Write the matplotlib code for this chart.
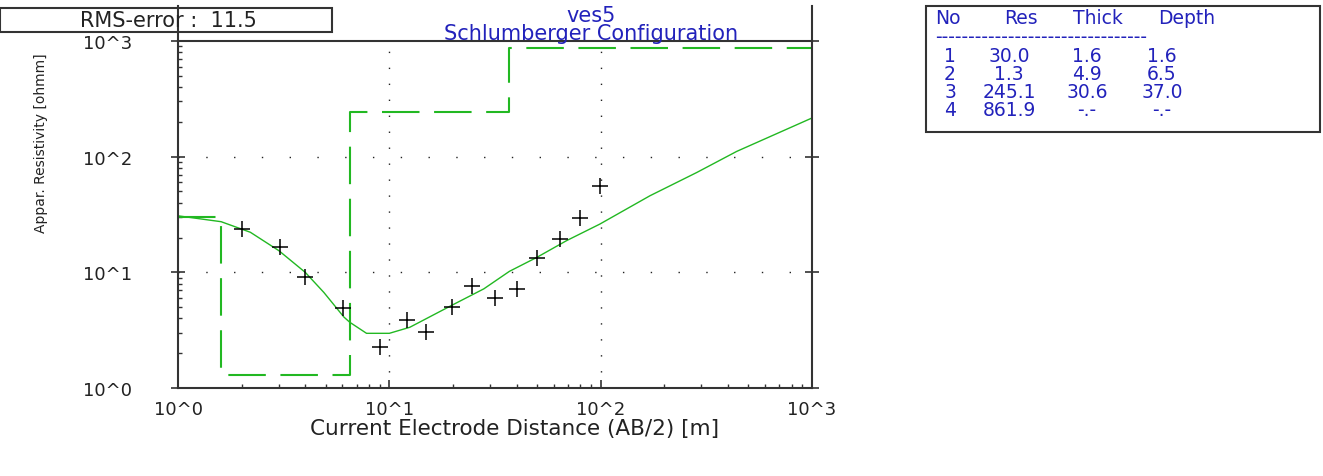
import matplotlib
matplotlib.use("Agg")
import matplotlib.pyplot as plt
from matplotlib.lines import Line2D
from matplotlib.patches import Rectangle

# layered model (Res / Thick / Depth)
layer_res = [30.0, 1.3, 245.1, 861.9]
layer_thick = [1.6, 4.9, 30.6]
layer_depth = [1.6, 6.5, 37.0]

# computed apparent resistivity curve
curve_ab2 = [1, 1.6, 2.2, 3.0, 4.0, 4.9, 6.1, 6.5, 7.8, 10, 12.5, 19.4, 28, 37,
             50, 69, 99, 171, 285, 440, 1000]
curve_rho = [30.8, 27.4, 22.2, 15.4, 10.0, 6.7, 4.1, 3.7, 2.97, 2.97, 3.35, 5.1,
             7.2, 10.2, 13.5, 18.8, 26.1, 45.9, 73, 111, 216]

# measured field data
meas_ab2 = [2.0, 3.04, 3.99, 6.02, 9.03, 12.1, 14.9, 19.7, 24.5, 31.6, 40.1,
            49.9, 64.2, 79.9, 99.4]
meas_rho = [23.7, 16.7, 9.05, 4.88, 2.25, 3.89, 3.07, 5.04, 7.57, 5.96, 7.17,
            13.3, 19.4, 29.3, 55.3]

rms_error = 11.5
station = "ves5"
config = "Schlumberger Configuration"

W, H = 1323, 477
fig = plt.figure(figsize=(W / 100, H / 100), dpi=100)
ax = fig.add_axes([178 / W, 1 - 389 / H, (812 - 178) / W, (389 - 42) / H])

green = "#22b822"
blue = "#2222bb"
dark = "#333333"

# step model from layer boundaries
step_x = [1.0] + [d for d in layer_depth for _ in (0, 1)] + [1000.0]
step_y = [r for r in layer_res for _ in (0, 1)]
ax.plot(step_x, step_y, color=green, lw=1.5, dashes=(18, 7))
ax.plot(curve_ab2, curve_rho, color=green, lw=1.0)
ax.plot(meas_ab2, meas_rho, "+", color="black", ms=12, mew=1.1)

ax.set_xscale("log")
ax.set_yscale("log")
ax.set_xlim(1, 1000)
ax.set_ylim(1, 1000)

for v in [10, 100]:
    ax.axvline(v, color="#222222", lw=1.0, ls=(0, (1, 10.5)), zorder=0)
    ax.axhline(v, color="#222222", lw=1.0, ls=(0, (1, 19)), zorder=0)

ticks = [1, 10, 100, 1000]
labels = ["10^0", "10^1", "10^2", "10^3"]
ax.set_xticks(ticks)
ax.set_xticklabels(labels)
ax.set_yticks(ticks)
ax.set_yticklabels(labels)
ax.tick_params(which="major", direction="in", length=6, width=1.2,
               labelsize=13, right=True, top=False, colors=dark, labelcolor="#222222")
ax.tick_params(axis="y", which="major", direction="inout", length=10, pad=28)
ax.tick_params(axis="x", which="major", pad=9)
ax.tick_params(which="minor", direction="in", length=3, width=1, right=False,
               top=False, colors=dark)
ax.set_xlabel("Current Electrode Distance (AB/2) [m]", fontsize=15.5, va="center",
              color="#222222")
ax.xaxis.set_label_coords((515 - 178) / 634, (389 - 429) / 347)

for s in ax.spines.values():
    s.set_linewidth(1.5)
    s.set_color(dark)

# spine extensions above the plot area
fig.add_artist(Line2D([178 / W, 178 / W], [1 - 7 / H, 1 - 42 / H], color=dark, lw=1.5))
fig.add_artist(Line2D([812 / W, 812 / W], [1 - 7 / H, 1 - 42 / H], color=dark, lw=1.5))

fig.text(41 / W, 1 - 143 / H, "Appar. Resistivity [ohmm]", rotation=90,
         ha="center", va="center", fontsize=10, color="#222222")

fig.text(591 / W, 1 - 16 / H, station, color=blue, fontsize=15, ha="center", va="center")
fig.text(591 / W, 1 - 34 / H, config, color=blue, fontsize=15, ha="center", va="center")

# RMS box
fig.add_artist(Rectangle((0, 1 - 33 / H), 332 / W, 24 / H, transform=fig.transFigure,
                         facecolor="white", edgecolor=dark, lw=1.5))
fig.text(168 / W, 1 - 21 / H, f"RMS-error :  {rms_error}", fontsize=15,
         ha="center", va="center", color="#222222")

# layer table
fig.add_artist(Rectangle((926 / W, 1 - 133 / H), (1320 - 926) / W, 126 / H,
                         transform=fig.transFigure, facecolor="white",
                         edgecolor=dark, lw=1.5))
tkw = dict(color=blue, fontsize=13.5, va="center")
for name, x in zip(["No", "Res", "Thick", "Depth"], [935, 1004, 1073, 1158]):
    fig.text(x / W, 1 - 19 / H, name, ha="left", **tkw)
fig.text(935 / W, 1 - 38 / H, "-" * 32, ha="left", **tkw)
for i, r in enumerate(layer_res):
    y = 1 - (56 + 18 * i) / H
    th = f"{layer_thick[i]:.1f}" if i < len(layer_thick) else "-.-"
    de = f"{layer_depth[i]:.1f}" if i < len(layer_depth) else "-.-"
    fig.text(950 / W, y, str(i + 1), ha="center", **tkw)
    fig.text(1009 / W, y, f"{r:.1f}", ha="center", **tkw)
    fig.text(1087 / W, y, th, ha="center", **tkw)
    fig.text(1162 / W, y, de, ha="center", **tkw)

fig.savefig("out.png", dpi=100)
